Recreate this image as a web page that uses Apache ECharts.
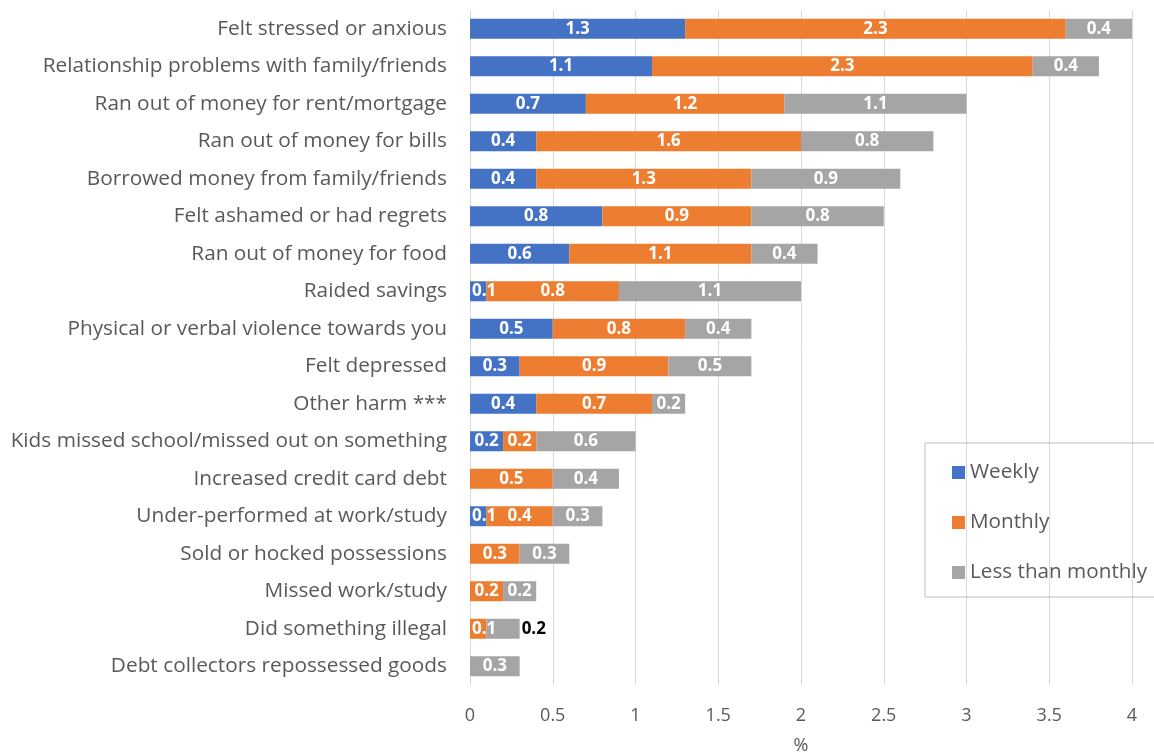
<!DOCTYPE html>
<html>
<head>
<meta charset="utf-8">
<script src="https://cdn.jsdelivr.net/npm/echarts@6/dist/echarts.min.js"></script>
<style>html,body{margin:0;padding:0;background:#fff}#c{width:1154px;height:755px}</style>
</head>
<body>
<div id="c"></div>
<script>
var categories = [
  "Felt stressed or anxious",
  "Relationship problems with family/friends",
  "Ran out of money for rent/mortgage",
  "Ran out of money for bills",
  "Borrowed money from family/friends",
  "Felt ashamed or had regrets",
  "Ran out of money for food",
  "Raided savings",
  "Physical or verbal violence towards you",
  "Felt depressed",
  "Other harm ***",
  "Kids missed school/missed out on something",
  "Increased credit card debt",
  "Under-performed at work/study",
  "Sold or hocked possessions",
  "Missed work/study",
  "Did something illegal",
  "Debt collectors repossessed goods"
];
var weekly  = [1.3, 1.1, 0.7, 0.4, 0.4, 0.8, 0.6, 0.1, 0.5, 0.3, 0.4, 0.2, null, 0.1, null, null, null, null];
var monthly = [2.3, 2.3, 1.2, 1.6, 1.3, 0.9, 1.1, 0.8, 0.8, 0.9, 0.7, 0.2, 0.5, 0.4, 0.3, 0.2, 0.1, null];
var lessThanMonthly = [0.4, 0.4, 1.1, 0.8, 0.9, 0.8, 0.4, 1.1, 0.4, 0.5, 0.2, 0.6, 0.4, 0.3, 0.3, 0.2, 0.2, 0.3];
var seriesNames = ["Weekly", "Monthly", "Less than monthly"];
var xTicks = [0, 0.5, 1, 1.5, 2, 2.5, 3, 3.5, 4];

var FONT = "Open Sans";
var colors = ["#4472c4", "#ed7d31", "#a5a5a5"];

function mk(name, arr, color, idx) {
  return {
    name: name,
    type: "bar",
    stack: "total",
    barWidth: 20,
    itemStyle: { color: color },
    label: {
      show: true,
      position: "inside",
      color: "#fff",
      fontFamily: FONT,
      fontWeight: "bold",
      fontSize: 17,
      formatter: function (p) { return p.value == null ? "" : Number(p.value).toFixed(1); }
    },
    data: arr.map(function (v, i) {
      if (v == null) return null;
      if (idx === 2 && categories[i] === "Did something illegal") {
        return { value: v, label: { position: "right", color: "#000", distance: 2 } };
      }
      if (v <= 0.1 && (idx === 0 || weekly[i] == null)) {
        return { value: v, label: { position: "insideLeft", distance: 2 } };
      }
      return v;
    })
  };
}

var chart = echarts.init(document.getElementById("c"));
chart.setOption({
  animation: false,
  color: colors,
  grid: { left: 470, right: 22, top: 10, bottom: 70, containLabel: false, outerBoundsMode: "none" },
  legend: {
    orient: "vertical",
    left: 925,
    top: 443,
    padding: [19, 40, 14, 27],
    itemWidth: 13,
    itemHeight: 13,
    itemGap: 29,
    borderColor: "#bfbfbf",
    borderWidth: 1,
    icon: "rect",
    textStyle: { fontFamily: FONT, fontSize: 20.7, color: "#595959" },
    data: seriesNames
  },
  xAxis: {
    type: "value",
    min: xTicks[0],
    max: xTicks[xTicks.length - 1],
    interval: 0.5,
    name: "%",
    nameLocation: "middle",
    nameGap: 52,
    nameTextStyle: { fontFamily: FONT, fontSize: 18, color: "#595959" },
    axisLine: { show: false },
    axisTick: { show: false },
    axisLabel: { fontFamily: FONT, fontSize: 18, color: "#595959", margin: 22 },
    splitLine: { show: true, lineStyle: { color: "#d9d9d9", width: 1 } }
  },
  yAxis: {
    type: "category",
    inverse: true,
    data: categories,
    axisLine: { show: true, lineStyle: { color: "#d9d9d9", width: 1 } },
    axisTick: { show: false },
    axisLabel: { fontFamily: FONT, fontSize: 20.8, color: "#595959", margin: 23 }
  },
  series: [
    mk(seriesNames[0], weekly, colors[0], 0),
    mk(seriesNames[1], monthly, colors[1], 1),
    mk(seriesNames[2], lessThanMonthly, colors[2], 2)
  ]
});
</script>
</body>
</html>
